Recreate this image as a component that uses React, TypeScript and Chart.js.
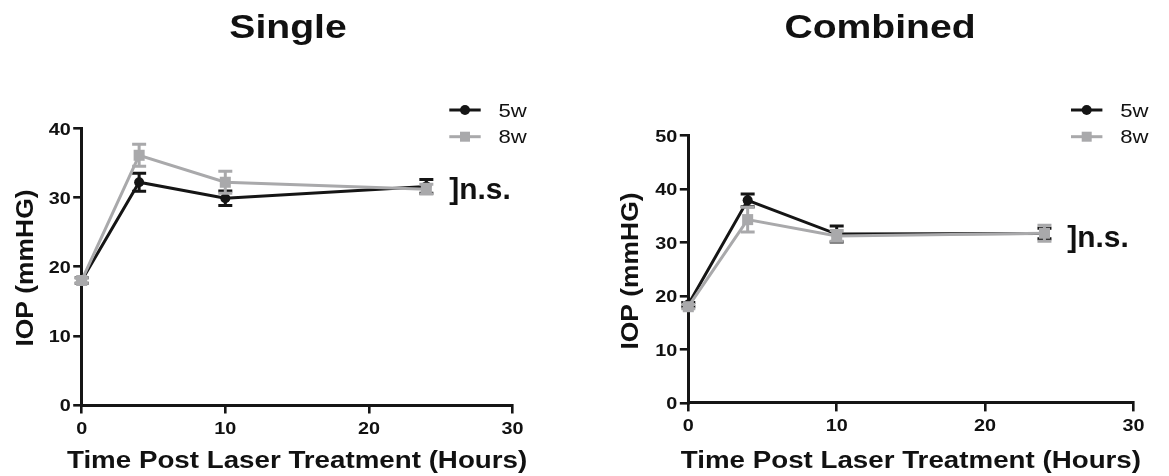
import React, { useEffect, useRef } from "react";
import { Chart, registerables } from "chart.js";

Chart.register(...registerables);

// ---- data ----
const times = [0, 4, 10, 24];
const single5w = [18, 32.2, 29.9, 31.6];
const single5wErr = [0.4, 1.3, 1.05, 1.0];
const single8w = [18, 36.1, 32.2, 31.2];
const single8wErr = [0.4, 1.6, 1.6, 0.7];
const combined5w = [18.4, 37.9, 31.6, 31.7];
const combined5wErr = [0.4, 1.2, 1.5, 1.0];
const combined8w = [18, 34.3, 31.25, 31.75];
const combined8wErr = [0.4, 2.3, 1.0, 1.5];
const xTicks = [0, 10, 20, 30];
const singleYTicks = [0, 10, 20, 30, 40];
const combinedYTicks = [0, 10, 20, 30, 40, 50];
const seriesLabels = ["5w", "8w"];
const panelTitles = ["Single", "Combined"];
const xTitle = "Time Post Laser Treatment (Hours)";
const yTitle = "IOP (mmHG)";
const nsLabel = "]n.s.";

const BLACK = "#151515";
const GRAY = "#a9a9ab";
const TEXT = "#111111";
const FONT = '"Liberation Sans", Arial, sans-serif';

function drawText(
  ctx: CanvasRenderingContext2D,
  s: string,
  x: number,
  y: number,
  font: string,
  align: CanvasTextAlign,
  sx: number,
  rot = 0,
  dy = 0
) {
  ctx.save();
  ctx.translate(x, y);
  if (rot) ctx.rotate(rot);
  ctx.scale(sx, 1);
  ctx.font = font;
  ctx.textAlign = align;
  ctx.textBaseline = "alphabetic";
  ctx.fillStyle = TEXT;
  ctx.fillText(s, 0, dy);
  ctx.restore();
}

type PanelCfg = {
  title: string;
  s5: number[];
  e5: number[];
  s8: number[];
  e8: number[];
  yTicks: number[];
  yMax: number;
  width: number;
  plotLeft: number;
  padRight: number;
  padTop: number;
  xAxisH: number;
  titleX: number;
  yTitleX: number;
  yTitleY: number;
  legendX: number;
  nsX: number;
  nsY: number;
};

const errorBars = {
  id: "errorBars",
  beforeDatasetDraw(chart: any, args: any) {
    const ds = chart.data.datasets[args.index];
    const errs: number[] = ds.errors || [];
    const xs = chart.scales.x;
    const ys = chart.scales.y;
    const ctx: CanvasRenderingContext2D = chart.ctx;
    ctx.save();
    ctx.strokeStyle = ds.borderColor;
    ctx.lineWidth = 3;
    ds.data.forEach((p: any, i: number) => {
      const e = errs[i] || 0;
      const px = xs.getPixelForValue(p.x);
      const top = ys.getPixelForValue(p.y + e);
      const bot = ys.getPixelForValue(p.y - e);
      ctx.beginPath();
      ctx.moveTo(px, top);
      ctx.lineTo(px, bot);
      ctx.moveTo(px - 7, top);
      ctx.lineTo(px + 7, top);
      ctx.moveTo(px - 7, bot);
      ctx.lineTo(px + 7, bot);
      ctx.stroke();
    });
    ctx.restore();
  },
};

function makeDecor(cfg: PanelCfg) {
  return {
    id: "decor",
    afterDraw(chart: any) {
      const ctx: CanvasRenderingContext2D = chart.ctx;
      const xs = chart.scales.x;
      const ys = chart.scales.y;
      const area = chart.chartArea;
      const tickFont = `bold 16.5px ${FONT}`;
      // y tick labels
      cfg.yTicks.forEach((v) => {
        drawText(ctx, String(v), area.left - 11, ys.getPixelForValue(v) + 6.3, tickFont, "right", 1.2);
      });
      // x tick labels
      xTicks.forEach((v) => {
        drawText(ctx, String(v), xs.getPixelForValue(v), area.bottom + 28.5, tickFont, "center", 1.2);
      });
      // title
      drawText(ctx, cfg.title, cfg.titleX, 37.5, `bold 34px ${FONT}`, "center", 1.15);
      // x title
      drawText(ctx, xTitle, (area.left + area.right) / 2, 468, `bold 23.5px ${FONT}`, "center", 1.18);
      // y title
      drawText(ctx, yTitle, cfg.yTitleX, cfg.yTitleY, `bold 23.5px ${FONT}`, "center", 1.124, -Math.PI / 2, 8.4);
      // n.s.
      drawText(ctx, nsLabel, cfg.nsX, cfg.nsY, `bold 29px ${FONT}`, "left", 1.03);
      // legend
      const rows = [
        { label: seriesLabels[0], color: BLACK, style: "circle", y: 110 },
        { label: seriesLabels[1], color: GRAY, style: "rect", y: 136.7 },
      ];
      rows.forEach((r) => {
        const x0 = cfg.legendX;
        const x1 = x0 + 31.4;
        const cx = (x0 + x1) / 2;
        ctx.save();
        ctx.strokeStyle = r.color;
        ctx.fillStyle = r.color;
        ctx.lineWidth = 3;
        ctx.beginPath();
        ctx.moveTo(x0, r.y);
        ctx.lineTo(x1, r.y);
        ctx.stroke();
        if (r.style === "circle") {
          ctx.beginPath();
          ctx.arc(cx, r.y, 5, 0, Math.PI * 2);
          ctx.fill();
        } else {
          ctx.fillRect(cx - 5, r.y - 5, 10, 10);
        }
        ctx.restore();
        drawText(ctx, r.label, x1 + 17.8, r.y + 6.7, `18.6px ${FONT}`, "left", 1.19);
      });
    },
  };
}

function Panel({ cfg }: { cfg: PanelCfg }) {
  const ref = useRef<HTMLCanvasElement | null>(null);
  useEffect(() => {
    if (!ref.current) return;
    const axisCommon = {
      type: "linear" as const,
      ticks: { display: false },
      grid: {
        display: true,
        drawOnChartArea: false,
        drawTicks: true,
        tickLength: 8.5,
        lineWidth: 2.6,
        color: BLACK,
      },
      border: { display: true, color: BLACK, width: 3 },
    };
    const chart = new Chart(ref.current, {
      type: "line",
      data: {
        datasets: [
          {
            label: seriesLabels[0],
            data: times.map((t, i) => ({ x: t, y: cfg.s5[i] })),
            errors: cfg.e5,
            borderColor: BLACK,
            backgroundColor: BLACK,
            pointBackgroundColor: BLACK,
            pointBorderColor: BLACK,
            pointStyle: "circle",
            pointRadius: 5,
            pointBorderWidth: 0,
            borderWidth: 3,
            tension: 0,
            clip: false,
            order: 2,
          } as any,
          {
            label: seriesLabels[1],
            data: times.map((t, i) => ({ x: t, y: cfg.s8[i] })),
            errors: cfg.e8,
            borderColor: GRAY,
            backgroundColor: GRAY,
            pointBackgroundColor: GRAY,
            pointBorderColor: GRAY,
            pointStyle: "rect",
            pointRadius: 7.8,
            pointBorderWidth: 0,
            borderWidth: 3,
            tension: 0,
            clip: false,
            order: 1,
          } as any,
        ],
      },
      options: {
        animation: false,
        responsive: true,
        maintainAspectRatio: false,
        events: [],
        layout: { padding: { left: 0, right: cfg.padRight, top: cfg.padTop, bottom: 0 } },
        plugins: {
          legend: { display: false },
          title: { display: false },
          tooltip: { enabled: false },
        },
        scales: {
          x: {
            ...axisCommon,
            min: 0,
            max: 30,
            afterBuildTicks: (s: any) => {
              s.ticks = xTicks.map((v) => ({ value: v }));
            },
            afterFit: (s: any) => {
              s.height = cfg.xAxisH;
            },
          },
          y: {
            ...axisCommon,
            min: 0,
            max: cfg.yMax,
            afterBuildTicks: (s: any) => {
              s.ticks = cfg.yTicks.map((v) => ({ value: v }));
            },
            afterFit: (s: any) => {
              s.width = cfg.plotLeft;
            },
          },
        },
      } as any,
      plugins: [errorBars, makeDecor(cfg)],
    });
    return () => chart.destroy();
  }, [cfg]);
  return <canvas ref={ref} />;
}

const leftCfg: PanelCfg = {
  title: panelTitles[0],
  s5: single5w,
  e5: single5wErr,
  s8: single8w,
  e8: single8wErr,
  yTicks: singleYTicks,
  yMax: 40,
  width: 584,
  plotLeft: 81.7,
  padRight: 71.5,
  padTop: 128.3,
  xAxisH: 71,
  titleX: 288,
  yTitleX: 24.5,
  yTitleY: 268,
  legendX: 449.3,
  nsX: 449.3,
  nsY: 198.5,
};

const rightCfg: PanelCfg = {
  title: panelTitles[1],
  s5: combined5w,
  e5: combined5wErr,
  s8: combined8w,
  e8: combined8wErr,
  yTicks: combinedYTicks,
  yMax: 50,
  width: 585,
  plotLeft: 104.3,
  padRight: 35.5,
  padTop: 135.7,
  xAxisH: 73.1,
  titleX: 296,
  yTitleX: 46,
  yTitleY: 271,
  legendX: 487,
  nsX: 483.3,
  nsY: 246.5,
};

export default function App() {
  return (
    <div
      style={{
        position: "fixed",
        left: 0,
        top: 0,
        width: 1169,
        height: 476,
        background: "#ffffff",
        overflow: "hidden",
      }}
    >
      <div style={{ position: "absolute", left: 0, top: 0, width: leftCfg.width, height: 476 }}>
        <Panel cfg={leftCfg} />
      </div>
      <div style={{ position: "absolute", left: 584, top: 0, width: rightCfg.width, height: 476 }}>
        <Panel cfg={rightCfg} />
      </div>
    </div>
  );
}
